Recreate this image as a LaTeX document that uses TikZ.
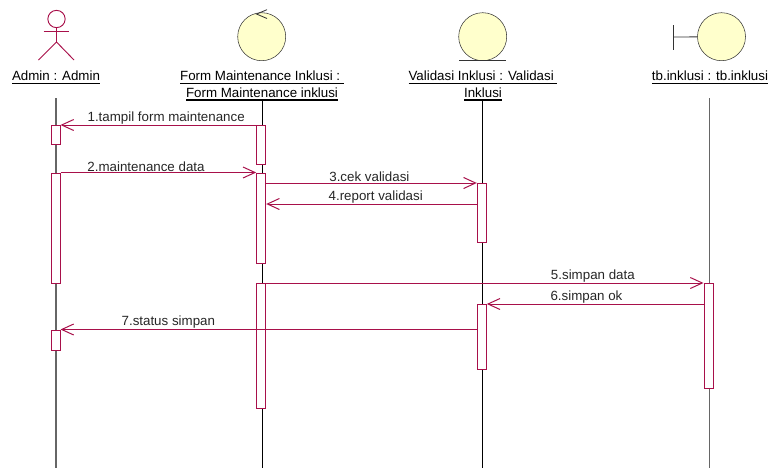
\documentclass[tikz,border=0pt]{standalone}
\usepackage{fontspec}
\setmainfont{Liberation Sans}
\usetikzlibrary{arrows.meta}
\definecolor{rosered}{HTML}{A8104A}
\definecolor{roseyellow}{HTML}{FFFFCC}
\newcommand{\lblul}[1]{\leavevmode\vtop{\hbox{#1}\kern1.1pt\hrule height 1.1pt}}

\begin{document}
\begin{tikzpicture}[
    x=0.75pt, y=-0.75pt,
    act/.style={draw=rosered, fill=white, line width=0.75pt, minimum width=6.75pt, inner sep=0pt,
                anchor=north, minimum height=#1*0.75pt},
    ic/.style={draw=black!80, fill=roseyellow, circle, inner sep=0pt, minimum size=36pt},
    objlbl/.style={anchor=north, align=center, inner sep=0pt,
                   font=\fontsize{10}{12.4}\selectfont},
    lbl/.style={font=\fontsize{10}{12}\selectfont, text=black!85, inner sep=0.4pt, above},
    life/.style={black, line width=0.6pt},
    msg/.style={draw=rosered, line width=0.75pt, -{Straight Barb[length=9pt,width=8.25pt]}},
    stick/.style={draw=rosered, line width=0.7pt}
  ]
  \useasboundingbox (0,0) rectangle (771,468);

  % object labels
  \node[objlbl] (adminlbl) at (56,71) {\lblul{Admin : Admin}};
  \node[objlbl] (formlbl)  at (262,71) {\lblul{Form Maintenance Inklusi :\ }\\\lblul{Form Maintenance inklusi}};
  \node[objlbl] (vallbl)   at (483,71) {\lblul{Validasi Inklusi : Validasi\ }\\\lblul{Inklusi}};
  \node[objlbl] (tblbl)    at (710,71) {\lblul{tb.inklusi : tb.inklusi}};

  % lifelines
  \coordinate (admintop) at (56,98);
  \coordinate (adminend) at (56,468);
  \coordinate (formend)  at (262,468);
  \coordinate (valend)   at (482,468);
  \coordinate (tbtop)    at (709,98);
  \coordinate (tbend)    at (709,468);
  \draw[life, black!60, line width=0.85pt] (admintop) -- (adminend);
  \draw[life] (formlbl.south) -- (formend);
  \draw[life] (vallbl.south -| valend) -- (valend);
  \draw[life, black!60] (tbtop) -- (tbend);

  % actor
  \node[stick, circle, inner sep=0pt, minimum size=13pt] (head) at (56.5,19) {};
  \coordinate (hip)   at (56.5,42);
  \coordinate (arml)  at (43.5,31.5);
  \coordinate (armr)  at (69,31.5);
  \coordinate (legl)  at (38.5,60);
  \coordinate (legr)  at (74,60);
  \draw[stick] (head) -- (hip);
  \draw[stick] (arml) -- (armr);
  \draw[stick] (legl) -- (hip) -- (legr);

  % control
  \node[ic] (formic) at (261.7,36.7) {};
  \coordinate (ctla) at (267,9.7);
  \coordinate (ctlb) at (256.5,14);
  \coordinate (ctlc) at (267,18.5);
  \draw[black!80, line width=0.6pt] (ctla) -- (ctlb) -- (ctlc);

  % entity
  \node[ic] (valic) at (482.7,36.7) {};
  \coordinate (entl) at (459,60.3);
  \coordinate (entr) at (506,60.3);
  \draw[black!80, line width=0.6pt] (entl) -- (entr);

  % boundary
  \node[ic] (tbic) at (721.5,36.7) {};
  \coordinate (bndt) at (673,25);
  \coordinate (bndm) at (673,37);
  \coordinate (bndb) at (673,50);
  \draw[black!80, line width=0.6pt] (bndt) -- (bndb);
  \draw[black!80, line width=0.6pt] (bndm) -- (tbic);

  % activations
  \node[act=19]  (a1) at (55.5,125) {};
  \node[act=110] (a2) at (55.5,172.5) {};
  \node[act=20]  (a3) at (55.5,329.5) {};
  \node[act=38.5] (f1) at (261.2,125) {};
  \node[act=90]  (f2) at (261.2,172.5) {};
  \node[act=125] (f3) at (261.2,283) {};
  \node[act=59]  (v1) at (481.8,183) {};
  \node[act=65]  (v2) at (481.8,304) {};
  \node[act=105] (t1) at (708.5,283) {};

  \coordinate (rep) at (0,204);

  % messages
  \draw[msg] (f1.north west) -- node[lbl, pos=.46]  {1.tampil form maintenance} (a1.north east);
  \draw[msg] (a2.north east) -- node[lbl, pos=.437] {2.maintenance data} (f2.north west);
  \draw[msg] (f2.east |- v1.north) -- node[lbl, pos=.49] {3.cek validasi} (v1.north west);
  \draw[msg] (v1.west |- rep) -- node[lbl, pos=.48] {4.report validasi} (f2.east |- rep);
  \draw[msg] (f3.north east) -- node[lbl, pos=.747] {5.simpan data} (t1.north west);
  \draw[msg] (t1.west |- v2.north) -- node[lbl, pos=.54] {6.simpan ok} (v2.north east);
  \draw[msg] (v2.west |- a3.north) -- node[lbl, pos=.741] {7.status simpan} (a3.north east);
\end{tikzpicture}
\end{document}
